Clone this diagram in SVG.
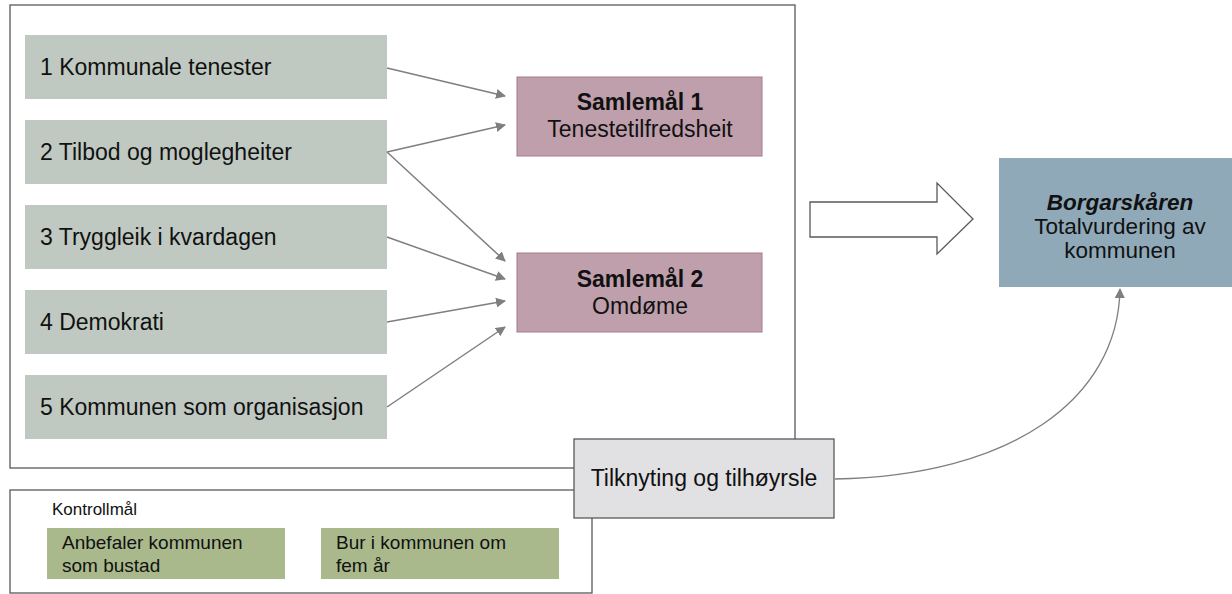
<svg xmlns="http://www.w3.org/2000/svg" width="1232" height="594" viewBox="0 0 1232 594">
<style>
text{font-family:"Liberation Sans",Arial,sans-serif;fill:#111}
.frame{fill:none;stroke:#595959;stroke-width:1.3}
.src{fill:#c0c9c1}
.src text{font-size:23px}
.goal rect{fill:#bf9fac;stroke:#a57d8c;stroke-width:1}
.goal text{font-size:23px;text-anchor:middle}
.b{font-weight:bold}
.conn line,.conn path{stroke:#7f7f7f;stroke-width:1.5;fill:none;marker-end:url(#ah)}
.ctl{fill:#a9b98b}
.ctl text{font-size:19px}
</style>
<defs>
<marker id="ah" viewBox="0 0 10 10" refX="9" refY="5" markerWidth="10" markerHeight="10" markerUnits="userSpaceOnUse" orient="auto">
<path d="M0,0 L10,5 L0,10 z" fill="#7f7f7f"/>
</marker>
</defs>
<rect width="1232" height="594" fill="#fff"/>
<rect id="frame" class="frame" x="10" y="5" width="785" height="463"/>
<g id="n1" class="src"><rect x="25" y="35" width="362" height="64"/><text x="40" y="75">1 Kommunale tenester</text></g>
<g id="n2" class="src"><rect x="25" y="120" width="362" height="64"/><text x="40" y="160">2 Tilbod og moglegheiter</text></g>
<g id="n3" class="src"><rect x="25" y="205" width="362" height="64"/><text x="40" y="245">3 Tryggleik i kvardagen</text></g>
<g id="n4" class="src"><rect x="25" y="290" width="362" height="64"/><text x="40" y="330">4 Demokrati</text></g>
<g id="n5" class="src"><rect x="25" y="375" width="362" height="64"/><text x="40" y="415">5 Kommunen som organisasjon</text></g>
<g id="s1" class="goal"><rect x="517" y="77" width="245" height="79"/><text x="640" y="110" class="b">Samlemål 1</text><text x="640" y="137">Tenestetilfredsheit</text></g>
<g id="s2" class="goal"><rect x="517" y="253" width="245" height="79"/><text x="640" y="287" class="b">Samlemål 2</text><text x="640" y="314">Omdøme</text></g>
<g id="bigarrow"><path d="M810,202 H937 V183 L973,219 L937,254 V237 H810 Z" fill="#fff" stroke="#595959" stroke-width="1.3"/></g>
<g id="borg"><rect x="999" y="158" width="233" height="129" fill="#8fa9b9"/>
<text x="1120" y="210" font-size="22.5" text-anchor="middle" font-weight="bold" font-style="italic">Borgarskåren</text>
<text x="1120" y="234" font-size="22.5" text-anchor="middle">Totalvurdering av</text>
<text x="1120" y="258" font-size="22.5" text-anchor="middle">kommunen</text></g>
<g id="kontroll"><rect class="frame" x="10" y="490" width="582" height="103"/>
<text x="52" y="515" font-size="17">Kontrollmål</text>
<g id="k1" class="ctl"><rect x="47" y="528" width="238" height="51"/><text x="62" y="549">Anbefaler kommunen</text><text x="62" y="572">som bustad</text></g>
<g id="k2" class="ctl"><rect x="321" y="528" width="238" height="51"/><text x="336" y="549">Bur i kommunen om</text><text x="336" y="572">fem år</text></g>
</g>
<g id="tilk"><rect x="574" y="439" width="260" height="79" fill="#e1e1e3" stroke="#595959" stroke-width="1.3"/>
<text x="704" y="486" font-size="23" text-anchor="middle">Tilknyting og tilhøyrsle</text></g>
<g id="connectors" class="conn">
<line x1="387" y1="68" x2="505" y2="96"/>
<line x1="387" y1="152" x2="505" y2="125"/>
<line x1="387" y1="152" x2="505" y2="261"/>
<line x1="387" y1="237" x2="505" y2="279"/>
<line x1="387" y1="322" x2="505" y2="301"/>
<line x1="387" y1="407" x2="505" y2="327"/>
<path d="M835,479 C1010,476 1118,400 1120,289" style="stroke-width:1.3"/>
</g>
</svg>
